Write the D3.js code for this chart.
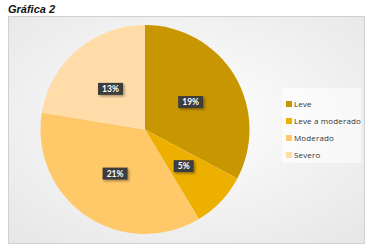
<!DOCTYPE html>
<html>
<head>
<meta charset="utf-8">
<script src="https://cdn.jsdelivr.net/npm/d3@7"></script>
<style>
  body { margin: 0; background: #fff; }
  svg { display: block; }
</style>
</head>
<body>
<div id="chart"></div>
<script>
var categories = ["Leve", "Leve a moderado", "Moderado", "Severo"];
var values = [19, 5, 21, 13];
var labels = ["19%", "5%", "21%", "13%"];
var colors = ["#C89600", "#EDB000", "#FFC869", "#FFDCA8"];

var W = 373, H = 251;
var svg = d3.select("#chart").append("svg").attr("width", W).attr("height", H);

var defs = svg.append("defs");
var grad = defs.append("radialGradient").attr("id", "bg")
    .attr("cx", "50%").attr("cy", "45%").attr("r", "75%");
grad.append("stop").attr("offset", "0%").attr("stop-color", "#ffffff");
grad.append("stop").attr("offset", "100%").attr("stop-color", "#e6e6e6");

var shadow = defs.append("filter").attr("id", "sh").attr("x", "-30%").attr("y", "-30%").attr("width", "170%").attr("height", "170%");
shadow.append("feDropShadow").attr("dx", 1.5).attr("dy", 1.5).attr("stdDeviation", 1)
    .attr("flood-color", "#000").attr("flood-opacity", 0.35);

// title
svg.append("text")
    .attr("x", 8).attr("y", 13)
    .style("font-family", "'Liberation Sans Narrow', 'Arial Narrow', sans-serif")
    .style("font-weight", "bold").style("font-style", "italic")
    .style("font-size", "11px").attr("fill", "#111")
    .text("Gráfica 2");

// chart area
svg.append("rect")
    .attr("x", 8.5).attr("y", 16.5).attr("width", 356).attr("height", 227)
    .attr("fill", "url(#bg)").attr("stroke", "#d0d0d0");

var cx = 145, cy = 129.5, r = 104.5;
var g = svg.append("g").attr("transform", "translate(" + cx + "," + cy + ")");

var pie = d3.pie().sort(null).value(function(d) { return d; });
var arcs = pie(values);
var arc = d3.arc().innerRadius(0).outerRadius(r);
var labelArc = d3.arc().innerRadius(r * 0.51).outerRadius(r * 0.51);

g.selectAll("path.slice")
    .data(arcs)
    .enter().append("path")
    .attr("class", "slice")
    .attr("d", arc)
    .attr("fill", function(d, i) { return colors[i]; })
    .attr("stroke", "none");

var lab = g.selectAll("g.lab")
    .data(arcs)
    .enter().append("g")
    .attr("class", "lab")
    .attr("transform", function(d) { return "translate(" + labelArc.centroid(d) + ")"; });

lab.append("rect")
    .attr("x", function(d, i) { return -(labels[i].length * 5 + 10) / 2; })
    .attr("y", -6)
    .attr("width", function(d, i) { return labels[i].length * 5 + 10; })
    .attr("height", 12)
    .attr("fill", "#3c3c3c")
    .attr("filter", "url(#sh)");

lab.append("text")
    .attr("text-anchor", "middle")
    .attr("dy", "0.35em")
    .style("font-family", "Lato, sans-serif")
    .style("font-weight", "bold")
    .style("font-size", "8.5px")
    .attr("fill", "#fff")
    .text(function(d, i) { return labels[i]; });

// legend
svg.append("rect")
    .attr("x", 282).attr("y", 88).attr("width", 79).attr("height", 75)
    .attr("fill", "#fff").attr("opacity", 0.6);

var ly = d3.scalePoint().domain(categories).range([104, 155]);
var leg = svg.selectAll("g.leg")
    .data(categories)
    .enter().append("g")
    .attr("class", "leg")
    .attr("transform", function(d) { return "translate(286," + ly(d) + ")"; });

leg.append("rect")
    .attr("x", 0).attr("y", -3).attr("width", 6).attr("height", 6)
    .attr("fill", function(d, i) { return colors[i]; });

leg.append("text")
    .attr("x", 8).attr("dy", "0.35em")
    .style("font-family", "'Open Sans', sans-serif")
    .style("font-size", "8px")
    .style("letter-spacing", "0.15px")
    .attr("fill", "#333")
    .text(function(d) { return d; });
</script>
</body>
</html>
